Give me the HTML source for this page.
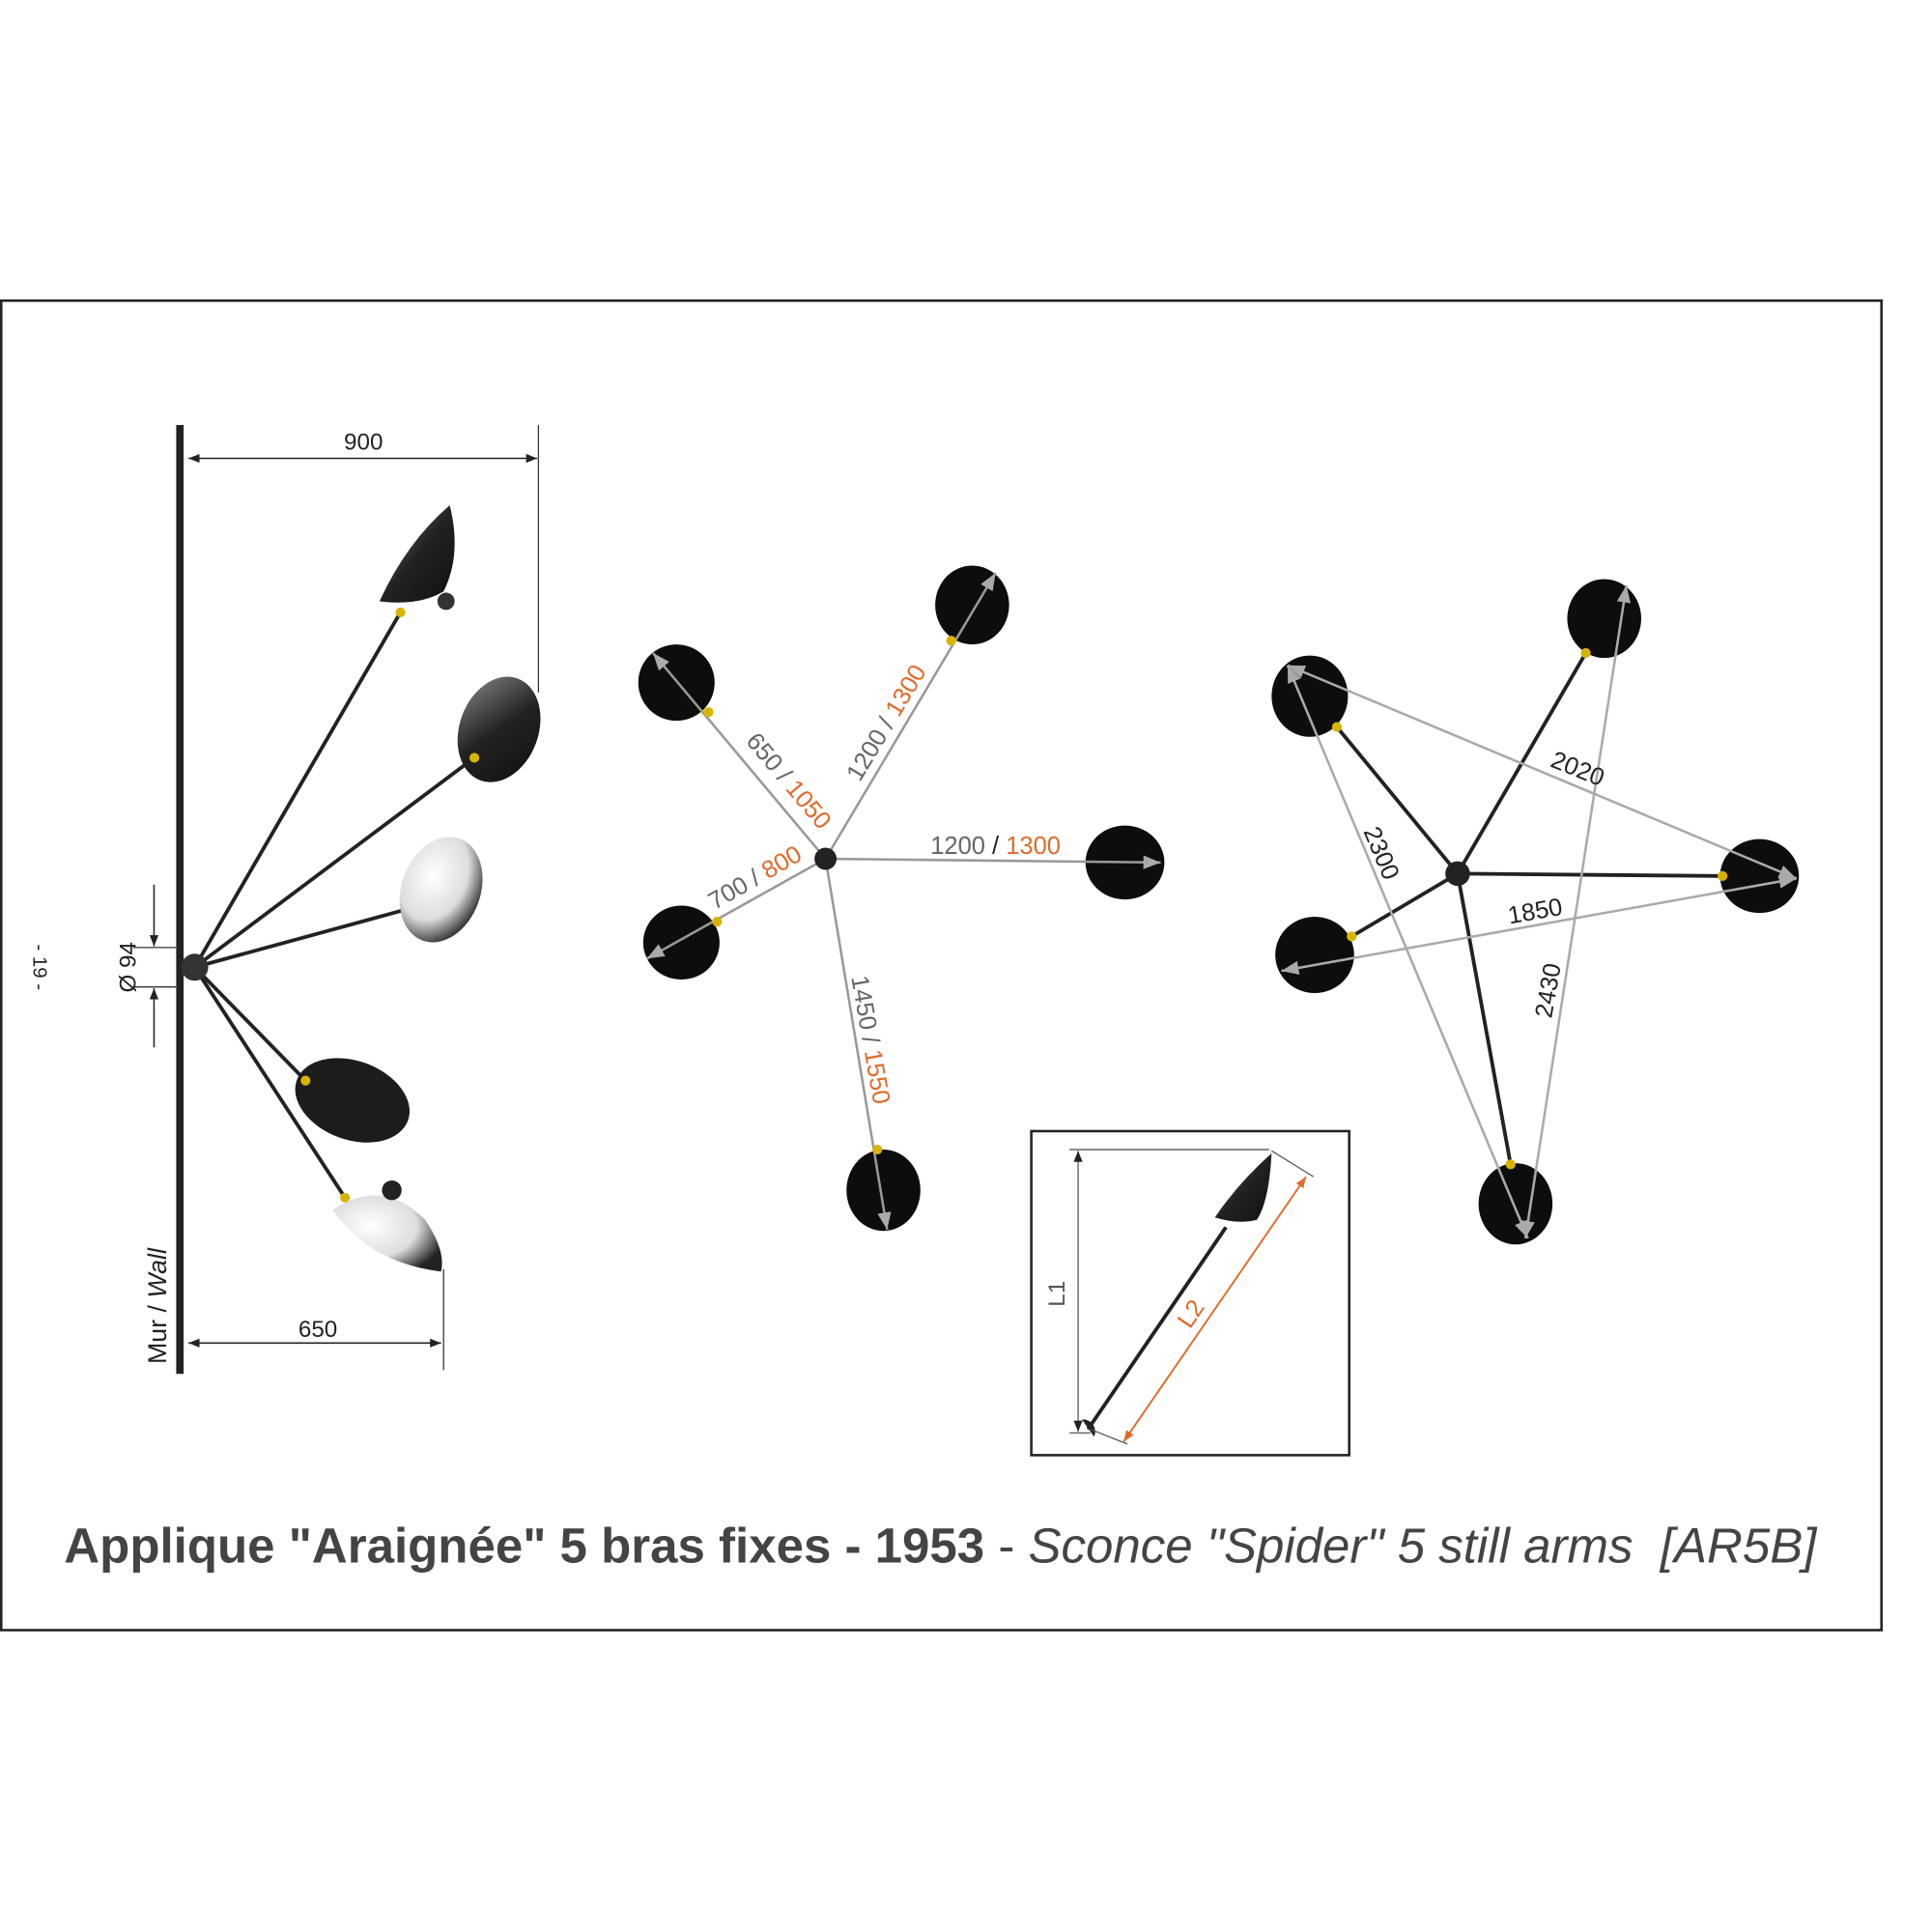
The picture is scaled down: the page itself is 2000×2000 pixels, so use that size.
<!DOCTYPE html>
<html><head><meta charset="utf-8"><style>
html,body{margin:0;padding:0;background:#fff}
svg{display:block}
text{font-family:"Liberation Sans",sans-serif}
</style></head><body>
<svg width="2000" height="2000" viewBox="0 0 1568 1568" xmlns="http://www.w3.org/2000/svg">
<defs>
<marker id="a" viewBox="0 0 10 10" refX="10" refY="5" markerWidth="9" markerHeight="9" orient="auto-start-reverse" markerUnits="userSpaceOnUse"><path d="M0,1 L10,5 L0,9 z" fill="#222"/></marker>
<marker id="g" viewBox="0 0 10 10" refX="10" refY="5" markerWidth="14" markerHeight="14" orient="auto-start-reverse" markerUnits="userSpaceOnUse"><path d="M0,1 L10,5 L0,9 z" fill="#aaa"/></marker>
<marker id="o" viewBox="0 0 10 10" refX="10" refY="5" markerWidth="9" markerHeight="9" orient="auto-start-reverse" markerUnits="userSpaceOnUse"><path d="M0,1 L10,5 L0,9 z" fill="#e06a2a"/></marker>
<radialGradient id="w" cx="0.35" cy="0.4" r="0.7"><stop offset="0" stop-color="#fff"/><stop offset="0.6" stop-color="#ddd"/><stop offset="1" stop-color="#222"/></radialGradient>
<linearGradient id="d" x1="0" y1="0" x2="1" y2="1"><stop offset="0" stop-color="#888"/><stop offset="0.5" stop-color="#222"/><stop offset="1" stop-color="#111"/></linearGradient>
</defs>
<rect x="1" y="244" width="1526" height="1079" fill="#fff" stroke="#222" stroke-width="2"/>

<line x1="146" y1="345" x2="146" y2="1115" stroke="#222" stroke-width="6"/>
<line x1="437" y1="345" x2="437" y2="562" stroke="#333" stroke-width="1"/>
<line x1="153" y1="372" x2="436" y2="372" stroke="#222" stroke-width="1.2" marker-start="url(#a)" marker-end="url(#a)"/>
<text x="295" y="365" font-size="19" text-anchor="middle" fill="#222">900</text>
<line x1="360" y1="1030" x2="360" y2="1112" stroke="#333" stroke-width="1"/>
<line x1="153" y1="1090" x2="358" y2="1090" stroke="#222" stroke-width="1.2" marker-start="url(#a)" marker-end="url(#a)"/>
<text x="258" y="1085" font-size="19" text-anchor="middle" fill="#222">650</text>
<line x1="108" y1="769" x2="145" y2="769" stroke="#333" stroke-width="1"/>
<line x1="108" y1="801" x2="145" y2="801" stroke="#333" stroke-width="1"/>
<line x1="125" y1="718" x2="125" y2="768" stroke="#222" stroke-width="1.2" marker-end="url(#a)"/>
<line x1="125" y1="850" x2="125" y2="802" stroke="#222" stroke-width="1.2" marker-end="url(#a)"/>
<text transform="translate(110,785) rotate(-90)" font-size="19" text-anchor="middle" fill="#222">Ø 94</text>
<text transform="translate(135,1060) rotate(-90)" font-size="21" text-anchor="middle" fill="#222">Mur / <tspan font-style="italic">Wall</tspan></text>
<text transform="translate(27,785) rotate(90)" font-size="16" text-anchor="middle" fill="#222">- 19 -</text>
<g stroke="#222" stroke-width="3">
<line x1="158" y1="785" x2="325" y2="497"/><line x1="158" y1="785" x2="385" y2="615"/>
<line x1="158" y1="785" x2="330" y2="738"/><line x1="158" y1="785" x2="248" y2="877"/>
<line x1="158" y1="785" x2="280" y2="972"/></g>
<circle cx="158" cy="785" r="11" fill="#333"/>
<path d="M308,488 Q330,440 365,410 Q375,450 360,480 Q340,492 308,488 z" fill="url(#d)"/>
<circle cx="362" cy="488" r="7" fill="#333"/>
<ellipse cx="405" cy="592" rx="32" ry="44" transform="rotate(20 405 592)" fill="url(#d)"/>
<ellipse cx="358" cy="722" rx="32" ry="44" transform="rotate(20 358 722)" fill="url(#w)"/>
<ellipse cx="286" cy="893" rx="48" ry="32" transform="rotate(20 286 893)" fill="#1c1c1c"/>
<path d="M270,982 Q310,955 345,990 Q362,1015 358,1032 Q300,1025 270,982 z" fill="url(#w)"/>
<circle cx="318" cy="966" r="8" fill="#222"/>
<g fill="#d8b400"><circle cx="325" cy="497" r="4"/><circle cx="385" cy="615" r="4"/><circle cx="248" cy="877" r="4"/><circle cx="280" cy="972" r="4"/></g>

<g fill="#0d0d0d">
<ellipse cx="549" cy="554" rx="31" ry="31"/><ellipse cx="789" cy="491" rx="30" ry="32"/>
<ellipse cx="913" cy="700" rx="32" ry="30"/><ellipse cx="553" cy="765" rx="31" ry="30"/>
<ellipse cx="717" cy="966" rx="30" ry="33"/></g>
<g stroke="#999" stroke-width="2">
<line x1="670" y1="697" x2="530" y2="530" marker-end="url(#g)"/>
<line x1="670" y1="697" x2="808" y2="465" marker-end="url(#g)"/>
<line x1="670" y1="697" x2="942" y2="700" marker-end="url(#g)"/>
<line x1="670" y1="697" x2="525" y2="778" marker-end="url(#g)"/>
<line x1="670" y1="697" x2="720" y2="998" marker-end="url(#g)"/></g>
<circle cx="670" cy="697" r="9" fill="#222"/>
<g font-size="20" fill="#666">
<text transform="translate(635,638) rotate(50)" text-anchor="middle">650 / <tspan fill="#e06a2a">1050</tspan></text>
<text transform="translate(725,590) rotate(-59)" text-anchor="middle">1200 / <tspan fill="#e06a2a">1300</tspan></text>
<text x="808" y="693" text-anchor="middle">1200 <tspan fill="#222">/</tspan> <tspan fill="#e06a2a">1300</tspan></text>
<text transform="translate(616,718) rotate(-30)" text-anchor="middle">700 / <tspan fill="#e06a2a">800</tspan></text>
<text transform="translate(700,845) rotate(80)" text-anchor="middle">1450 / <tspan fill="#e06a2a">1550</tspan></text>
</g>

<g fill="#0d0d0d">
<ellipse cx="1063" cy="565" rx="31" ry="33"/><ellipse cx="1302" cy="502" rx="30" ry="32"/>
<ellipse cx="1428" cy="711" rx="32" ry="30"/><ellipse cx="1067" cy="775" rx="32" ry="31"/>
<ellipse cx="1230" cy="977" rx="30" ry="33"/></g>
<g stroke="#222" stroke-width="3">
<line x1="1183" y1="709" x2="1085" y2="590"/><line x1="1183" y1="709" x2="1287" y2="530"/>
<line x1="1183" y1="709" x2="1398" y2="711"/><line x1="1183" y1="709" x2="1097" y2="760"/>
<line x1="1183" y1="709" x2="1226" y2="945"/></g>
<g fill="#d8b400"><circle cx="1085" cy="590" r="4"/><circle cx="1287" cy="530" r="4"/><circle cx="1398" cy="711" r="4"/><circle cx="1097" cy="760" r="4"/><circle cx="1226" cy="945" r="4"/><circle cx="575" cy="578" r="4"/><circle cx="772" cy="520" r="4"/><circle cx="582" cy="748" r="4"/><circle cx="712" cy="933" r="4"/><circle cx="995" cy="996" r="4"/></g>
<circle cx="1183" cy="709" r="10" fill="#222"/>
<g stroke="#aaa" stroke-width="2">
<line x1="1045" y1="540" x2="1458" y2="713" marker-start="url(#g)" marker-end="url(#g)"/>
<line x1="1040" y1="788" x2="1458" y2="713" marker-start="url(#g)" marker-end="url(#g)"/>
<line x1="1045" y1="540" x2="1240" y2="1005" marker-start="url(#g)" marker-end="url(#g)"/>
<line x1="1320" y1="475" x2="1238" y2="1005" marker-start="url(#g)" marker-end="url(#g)"/></g>
<g font-size="20" fill="#222">
<text transform="translate(1278,630) rotate(22)" text-anchor="middle">2020</text>
<text transform="translate(1247,746) rotate(-10)" text-anchor="middle">1850</text>
<text transform="translate(1115,695) rotate(67)" text-anchor="middle">2300</text>
<text transform="translate(1263,805) rotate(-80)" text-anchor="middle">2430</text>
</g>

<rect x="837" y="918" width="258" height="263" fill="#fff" stroke="#222" stroke-width="2"/>
<line x1="868" y1="933" x2="1030" y2="933" stroke="#555" stroke-width="1"/>
<line x1="868" y1="1163" x2="885" y2="1163" stroke="#555" stroke-width="1"/>
<line x1="875" y1="934" x2="875" y2="1162" stroke="#555" stroke-width="1" marker-start="url(#a)" marker-end="url(#a)"/>
<text transform="translate(864,1050) rotate(-90)" font-size="19" text-anchor="middle" fill="#555">L1</text>
<line x1="883" y1="1160" x2="995" y2="996" stroke="#222" stroke-width="3"/>
<path d="M986,988 Q1005,960 1032,936 Q1030,975 1020,990 Q1005,994 986,988 z" fill="url(#d)"/>
<path d="M878,1152 a10,10 0 0 1 10,14 z" fill="#222"/>
<line x1="1032" y1="934" x2="1066" y2="955" stroke="#555" stroke-width="1"/>
<line x1="885" y1="1160" x2="915" y2="1172" stroke="#555" stroke-width="1"/>
<line x1="912" y1="1170" x2="1060" y2="955" stroke="#e06a2a" stroke-width="1.5" marker-start="url(#o)" marker-end="url(#o)"/>
<text transform="translate(972,1070) rotate(-56)" font-size="20" text-anchor="middle" fill="#e06a2a">L2</text>

<text x="52" y="1268" font-size="40" fill="#444"><tspan font-weight="bold">Applique "Araignée" 5 bras fixes - 1953</tspan><tspan> - </tspan><tspan font-style="italic">Sconce "Spider" 5 still arms&#160; [AR5B]</tspan></text>
</svg>
</body></html>
